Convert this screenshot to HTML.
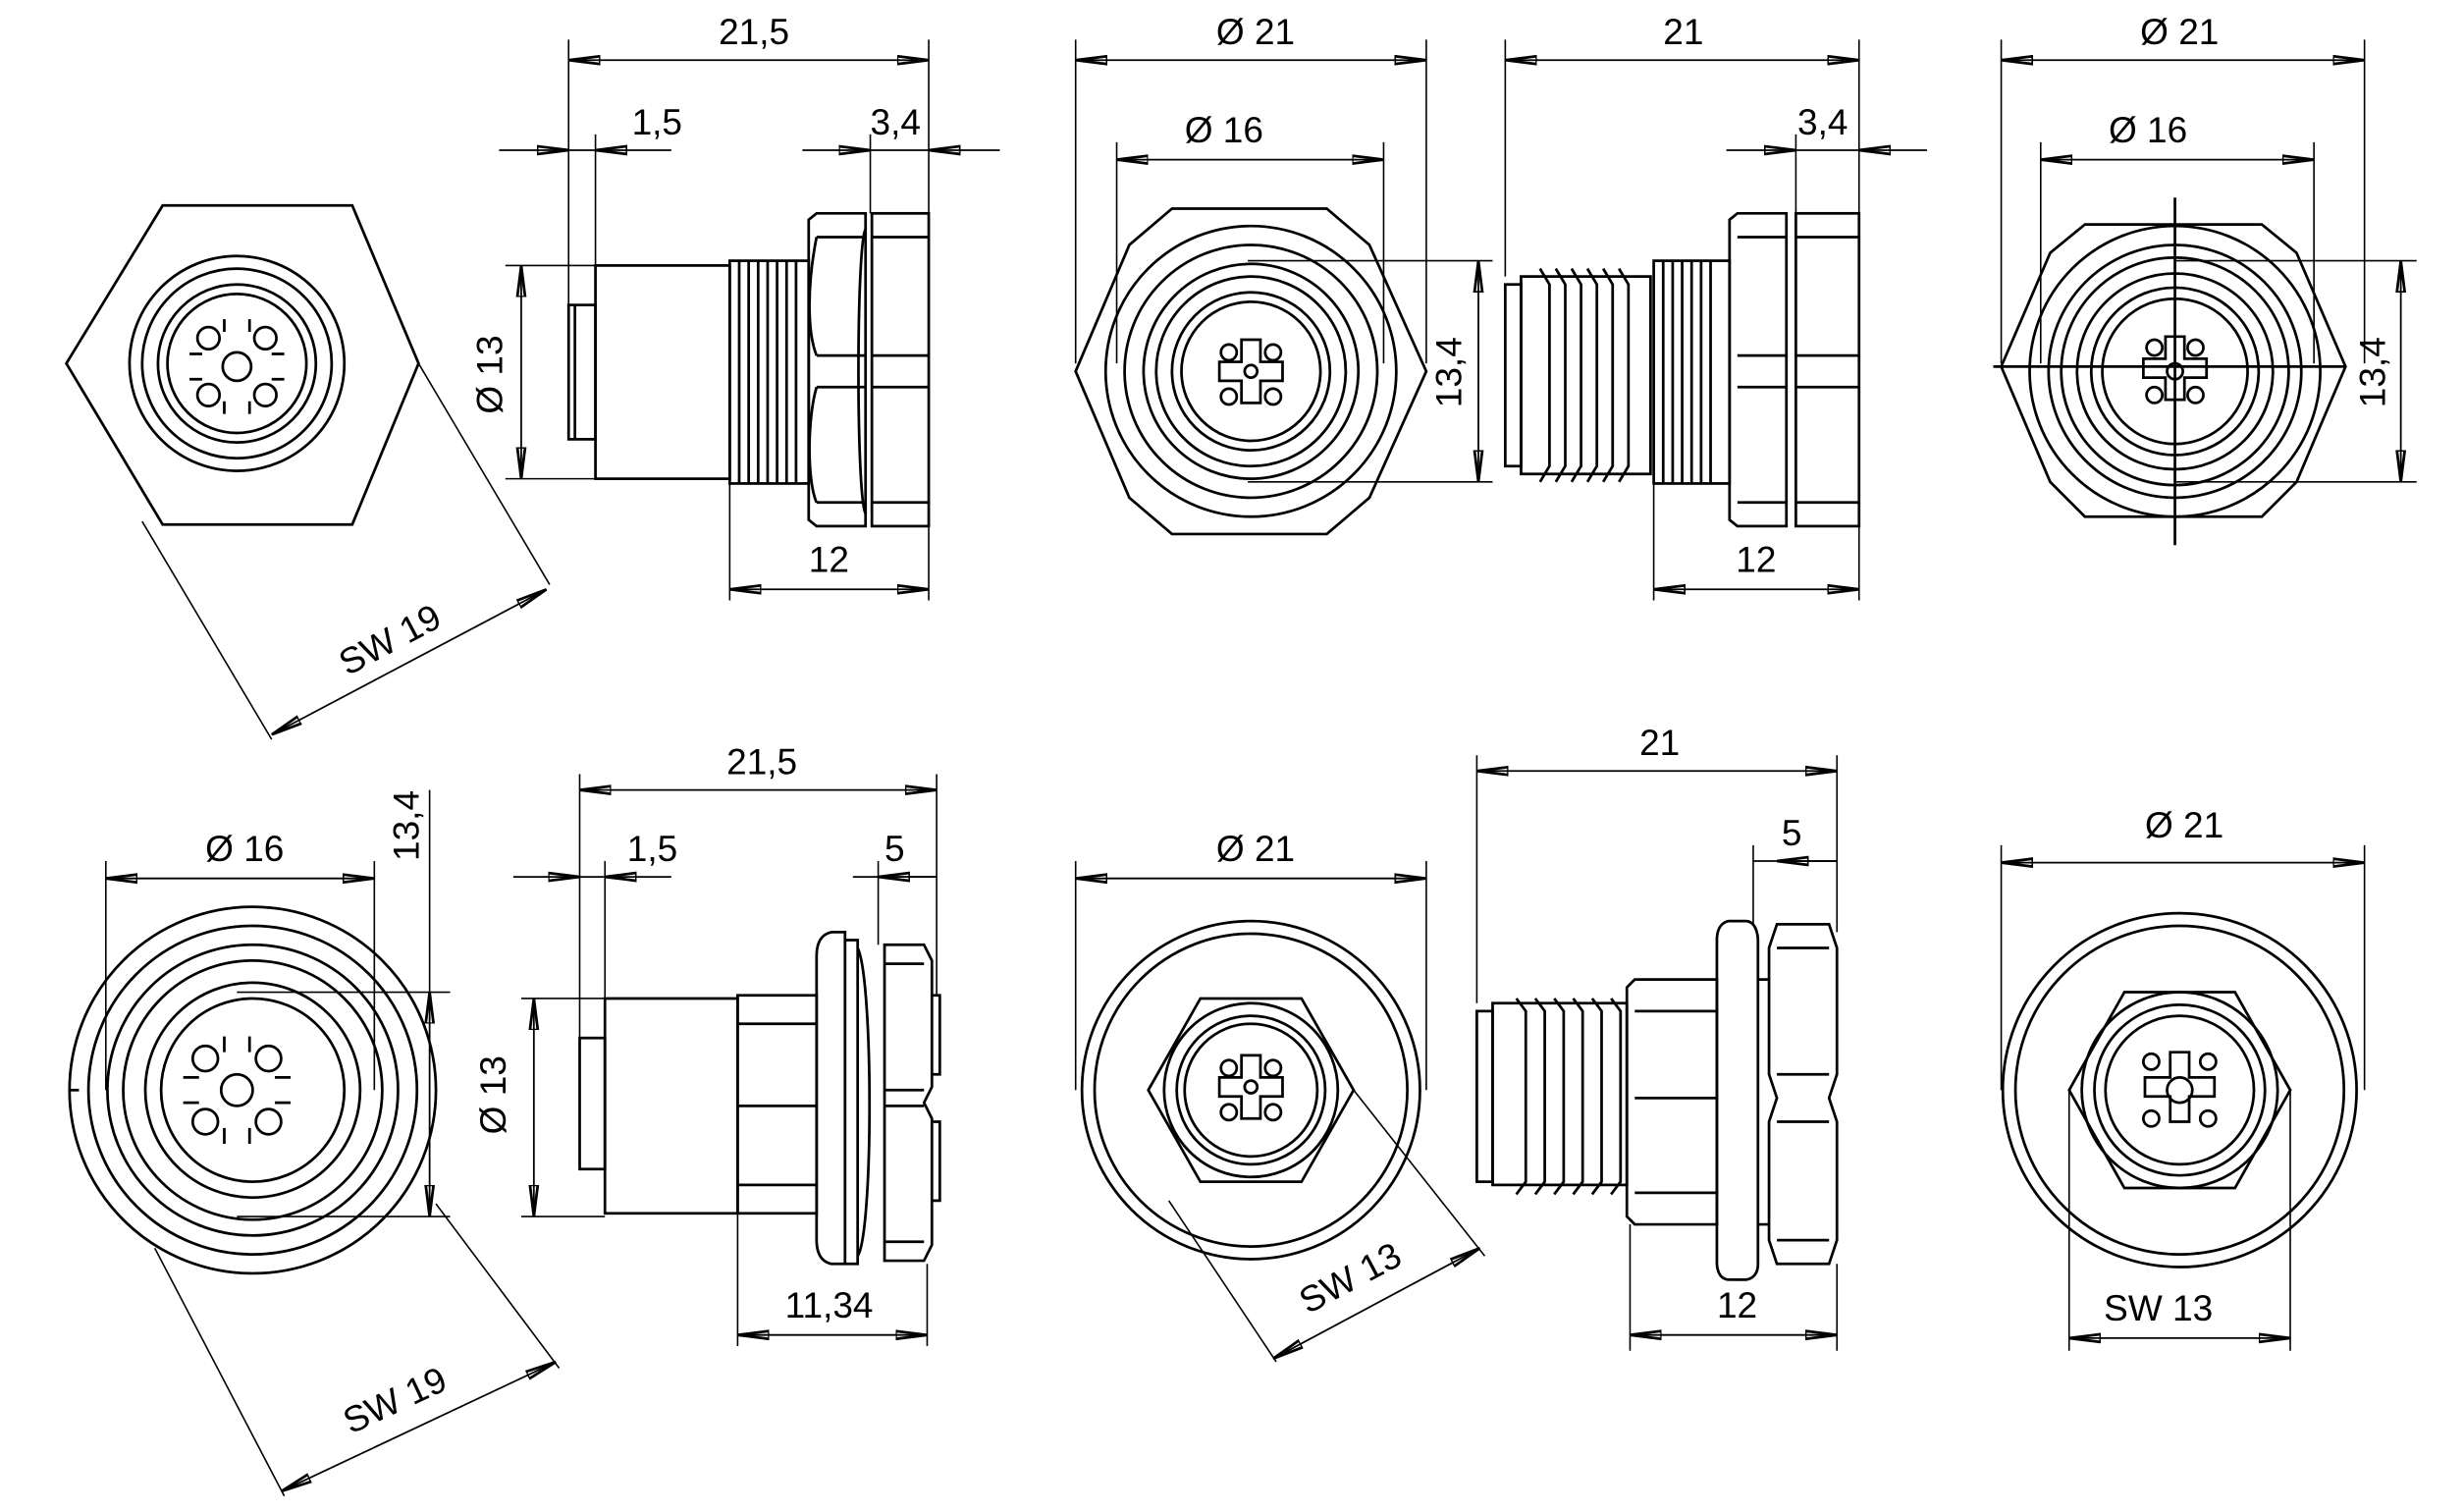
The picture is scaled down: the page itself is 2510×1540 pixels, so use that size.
<!DOCTYPE html>
<html><head><meta charset="utf-8"><style>html,body{margin:0;padding:0;background:#fff}svg{display:block}</style></head><body>
<svg width="2510" height="1540" viewBox="0 0 1560 957" xmlns="http://www.w3.org/2000/svg">
<defs>
<marker id="a" viewBox="0 0 20 8" refX="20" refY="4" markerWidth="20" markerHeight="8" markerUnits="userSpaceOnUse" orient="auto-start-reverse"><path d="M0,1.5 L20,4 L0,6.5z" fill="#000"/></marker>
<g id="pins4">
<path d="M-6,-22 h12 v14 h14 v12 h-14 v14 h-12 v-14 h-14 v-12 h14z" fill="none" stroke="#000" stroke-width="1.6"/>
<circle cx="-14" cy="-14" r="5"/><circle cx="14" cy="-14" r="5"/><circle cx="-14" cy="14" r="5"/><circle cx="14" cy="14" r="5"/>
<circle cx="0" cy="-2" r="4"/>
</g>
</defs>
<style>
line,path,circle,rect,polygon,polyline{stroke:#000;stroke-width:1.7;fill:none}
.d{stroke-width:1.1}
.e{stroke-width:1}
text{font-family:"Liberation Sans",sans-serif;font-size:23px;fill:#000;font-weight:normal}
</style>

<!-- ================= TOP ROW ================= -->
<!-- 1 hex front -->
<polygon points="42,230 103,130 223,130 265,230 223,332 103,332"/>
<circle cx="150" cy="230" r="68"/><circle cx="150" cy="230" r="60"/><circle cx="150" cy="230" r="50"/><circle cx="150" cy="230" r="44"/>
<g transform="translate(150,232)" stroke-width="1.6">
<circle r="9"/><circle cx="-18" cy="-18" r="7"/><circle cx="18" cy="-18" r="7"/><circle cx="-18" cy="18" r="7"/><circle cx="18" cy="18" r="7"/>
<path d="M-30,-8 h8 M22,-8 h8 M-30,8 h8 M22,8 h8 M-8,-30 v8 M8,-30 v8 M-8,22 v8 M8,22 v8"/>
</g>
<line class="e" x1="90" y1="330" x2="172" y2="468"/><line class="e" x1="265" y1="230" x2="348" y2="370"/>
<line class="d" x1="172" y1="465" x2="346" y2="373" marker-start="url(#a)" marker-end="url(#a)"/>
<text transform="translate(220,428) rotate(-28)">SW 19</text>

<!-- 2 side view -->
<line class="e" x1="360" y1="25" x2="360" y2="193"/><line class="e" x1="588" y1="25" x2="588" y2="135"/>
<line class="d" x1="360" y1="38" x2="588" y2="38" marker-start="url(#a)" marker-end="url(#a)"/>
<text x="455" y="28">21,5</text>
<line class="e" x1="377" y1="85" x2="377" y2="168"/>
<line class="d" x1="316" y1="95" x2="360" y2="95" marker-end="url(#a)"/><line class="d" x1="425" y1="95" x2="377" y2="95" marker-end="url(#a)"/>
<line class="d" x1="360" y1="95" x2="377" y2="95"/><text x="400" y="85">1,5</text>
<line class="e" x1="551" y1="85" x2="551" y2="135"/>
<line class="d" x1="508" y1="95" x2="551" y2="95" marker-end="url(#a)"/><line class="d" x1="633" y1="95" x2="588" y2="95" marker-end="url(#a)"/>
<line class="d" x1="551" y1="95" x2="588" y2="95"/><text x="551" y="85">3,4</text>
<line class="e" x1="320" y1="168" x2="377" y2="168"/><line class="e" x1="320" y1="303" x2="377" y2="303"/>
<line class="d" x1="330" y1="168" x2="330" y2="303" marker-start="url(#a)" marker-end="url(#a)"/>
<text transform="translate(318,262) rotate(-90)">Ø 13</text>
<rect x="360" y="193" width="17" height="85"/><line x1="364" y1="193" x2="364" y2="278"/>
<rect x="377" y="168" width="85" height="135"/>
<rect x="462" y="165" width="50" height="141"/>
<g stroke-width="1.1"><path d="M468,165 v141 M474,165 v141 M480,165 v141 M486,165 v141 M492,165 v141 M498,165 v141 M504,165 v141"/></g>
<path d="M517,135 h31 v198 h-31 l-5,-4 v-190z"/><path d="M517,150 h31 M517,318 h31 M517,225 h31 M517,245 h31 M517,150 c-6,30 -6,60 0,75 M517,245 c-6,20 -6,60 0,73"/>
<rect x="552" y="135" width="36" height="198"/><path d="M552,150 h36 M552,318 h36 M552,225 h36 M552,245 h36 M548,145 c-6,10 -6,170 0,180"/>
<line class="e" x1="462" y1="306" x2="462" y2="380"/><line class="e" x1="588" y1="333" x2="588" y2="380"/>
<line class="d" x1="462" y1="373" x2="588" y2="373" marker-start="url(#a)" marker-end="url(#a)"/>
<text x="512" y="362">12</text>

<!-- 3 front view -->
<line class="e" x1="681" y1="25" x2="681" y2="230"/><line class="e" x1="903" y1="25" x2="903" y2="230"/>
<line class="d" x1="681" y1="38" x2="903" y2="38" marker-start="url(#a)" marker-end="url(#a)"/>
<text x="770" y="28">Ø 21</text>
<line class="e" x1="707" y1="90" x2="707" y2="230"/><line class="e" x1="876" y1="90" x2="876" y2="230"/>
<line class="d" x1="707" y1="101" x2="876" y2="101" marker-start="url(#a)" marker-end="url(#a)"/>
<text x="750" y="90">Ø 16</text>
<polygon points="681,235 715,155 742,132 840,132 867,155 903,235 867,315 840,338 742,338 715,315"/>
<circle cx="792" cy="235" r="92"/><circle cx="792" cy="235" r="80"/><circle cx="792" cy="235" r="68"/><circle cx="792" cy="235" r="60"/><circle cx="792" cy="235" r="50"/><circle cx="792" cy="235" r="44"/>
<g transform="translate(792,237)" stroke-width="1.6"><use href="#pins4"/></g>
<line class="e" x1="790" y1="165" x2="945" y2="165"/><line class="e" x1="790" y1="305" x2="945" y2="305"/>
<line class="d" x1="936" y1="165" x2="936" y2="305" marker-start="url(#a)" marker-end="url(#a)"/>
<text transform="translate(925,258) rotate(-90)">13,4</text>

<!-- 4 side view -->
<line class="e" x1="953" y1="25" x2="953" y2="175"/><line class="e" x1="1177" y1="25" x2="1177" y2="135"/>
<line class="d" x1="953" y1="38" x2="1177" y2="38" marker-start="url(#a)" marker-end="url(#a)"/>
<text x="1053" y="28">21</text>
<line class="e" x1="1137" y1="85" x2="1137" y2="135"/>
<line class="d" x1="1093" y1="95" x2="1137" y2="95" marker-end="url(#a)"/><line class="d" x1="1220" y1="95" x2="1177" y2="95" marker-end="url(#a)"/>
<line class="d" x1="1137" y1="95" x2="1177" y2="95"/><text x="1138" y="85">3,4</text>
<rect x="953" y="180" width="10" height="115"/>
<path d="M963,175 h82 v125 h-82z"/>
<g stroke-width="1.3"><path d="M975,170 l6,10 v115 l-6,10 M985,170 l6,10 v115 l-6,10 M995,170 l6,10 v115 l-6,10 M1005,170 l6,10 v115 l-6,10 M1015,170 l6,10 v115 l-6,10 M1025,170 l6,10 v115 l-6,10"/></g>
<rect x="1047" y="165" width="48" height="141"/>
<g stroke-width="1.1"><path d="M1053,165 v141 M1059,165 v141 M1065,165 v141 M1071,165 v141 M1077,165 v141 M1083,165 v141"/></g>
<path d="M1100,135 h31 v198 h-31 l-5,-4 v-190z"/><path d="M1100,150 h31 M1100,318 h31 M1100,225 h31 M1100,245 h31"/>
<rect x="1137" y="135" width="40" height="198"/><path d="M1137,150 h40 M1137,318 h40 M1137,225 h40 M1137,245 h40"/>
<line class="e" x1="1047" y1="306" x2="1047" y2="380"/><line class="e" x1="1177" y1="333" x2="1177" y2="380"/>
<line class="d" x1="1047" y1="373" x2="1177" y2="373" marker-start="url(#a)" marker-end="url(#a)"/>
<text x="1099" y="362">12</text>

<!-- 5 front view -->
<line class="e" x1="1267" y1="25" x2="1267" y2="230"/><line class="e" x1="1497" y1="25" x2="1497" y2="230"/>
<line class="d" x1="1267" y1="38" x2="1497" y2="38" marker-start="url(#a)" marker-end="url(#a)"/>
<text x="1355" y="28">Ø 21</text>
<line class="e" x1="1292" y1="90" x2="1292" y2="230"/><line class="e" x1="1465" y1="90" x2="1465" y2="230"/>
<line class="d" x1="1292" y1="101" x2="1465" y2="101" marker-start="url(#a)" marker-end="url(#a)"/>
<text x="1335" y="90">Ø 16</text>
<polygon points="1267,232 1298,160 1320,142 1432,142 1454,160 1485,232 1454,305 1432,327 1320,327 1298,305"/>
<circle cx="1377" cy="235" r="92"/><circle cx="1377" cy="235" r="80"/><circle cx="1377" cy="235" r="72"/><circle cx="1377" cy="235" r="62"/><circle cx="1377" cy="235" r="53"/><circle cx="1377" cy="235" r="46"/>
<line x1="1262" y1="232" x2="1485" y2="232"/><line x1="1377" y1="125" x2="1377" y2="345"/>
<g transform="translate(1377,235)" stroke-width="1.6"><path d="M-6,-22 h12 v14 h14 v12 h-14 v14 h-12 v-14 h-14 v-12 h14z"/><circle r="5"/><circle cx="-13" cy="-15" r="5"/><circle cx="13" cy="-15" r="5"/><circle cx="-13" cy="15" r="5"/><circle cx="13" cy="15" r="5"/></g>
<line class="e" x1="1377" y1="165" x2="1530" y2="165"/><line class="e" x1="1377" y1="305" x2="1530" y2="305"/>
<line class="d" x1="1520" y1="165" x2="1520" y2="305" marker-start="url(#a)" marker-end="url(#a)"/>
<text transform="translate(1510,258) rotate(-90)">13,4</text>

<!-- ================= BOTTOM ROW ================= -->
<!-- 6 front -->
<line class="e" x1="67" y1="545" x2="67" y2="690"/><line class="e" x1="237" y1="545" x2="237" y2="690"/>
<line class="d" x1="67" y1="556" x2="237" y2="556" marker-start="url(#a)" marker-end="url(#a)"/>
<text x="130" y="545">Ø 16</text>
<circle cx="160" cy="690" r="116"/><circle cx="160" cy="690" r="104"/><circle cx="160" cy="690" r="92"/><circle cx="160" cy="690" r="82"/><circle cx="160" cy="690" r="68"/><circle cx="160" cy="690" r="58"/>
<line x1="44" y1="690" x2="50" y2="690"/>
<g transform="translate(150,690)" stroke-width="1.6">
<circle r="10"/><circle cx="-20" cy="-20" r="8"/><circle cx="20" cy="-20" r="8"/><circle cx="-20" cy="20" r="8"/><circle cx="20" cy="20" r="8"/>
<path d="M-34,-8 h10 M24,-8 h10 M-34,8 h10 M24,8 h10 M-8,-34 v10 M8,-34 v10 M-8,24 v10 M8,24 v10"/>
</g>
<line class="e" x1="150" y1="628" x2="285" y2="628"/><line class="e" x1="150" y1="770" x2="285" y2="770"/>
<line class="d" x1="272" y1="628" x2="272" y2="770" marker-start="url(#a)" marker-end="url(#a)"/>
<line class="e" x1="272" y1="500" x2="272" y2="628"/>
<text transform="translate(265,545) rotate(-90)">13,4</text>
<line class="e" x1="98" y1="790" x2="180" y2="947"/><line class="e" x1="276" y1="762" x2="354" y2="866"/>
<line class="d" x1="178" y1="944" x2="352" y2="862" marker-start="url(#a)" marker-end="url(#a)"/>
<text transform="translate(222,908) rotate(-25)">SW 19</text>

<!-- 7 side -->
<line class="e" x1="367" y1="490" x2="367" y2="657"/><line class="e" x1="593" y1="490" x2="593" y2="630"/>
<line class="d" x1="367" y1="500" x2="593" y2="500" marker-start="url(#a)" marker-end="url(#a)"/>
<text x="460" y="490">21,5</text>
<line class="e" x1="383" y1="545" x2="383" y2="632"/>
<line class="d" x1="325" y1="555" x2="367" y2="555" marker-end="url(#a)"/><line class="d" x1="425" y1="555" x2="383" y2="555" marker-end="url(#a)"/>
<line class="d" x1="367" y1="555" x2="383" y2="555"/><text x="397" y="545">1,5</text>
<line class="e" x1="556" y1="545" x2="556" y2="598"/>
<line class="d" x1="540" y1="555" x2="593" y2="555"/><line class="d" x1="593" y1="555" x2="556" y2="555" marker-end="url(#a)"/>
<text x="560" y="545">5</text>
<line class="e" x1="330" y1="632" x2="383" y2="632"/><line class="e" x1="330" y1="770" x2="383" y2="770"/>
<line class="d" x1="338" y1="632" x2="338" y2="770" marker-start="url(#a)" marker-end="url(#a)"/>
<text transform="translate(320,718) rotate(-90)">Ø 13</text>
<rect x="367" y="657" width="16" height="83"/>
<rect x="383" y="632" width="84" height="136"/>
<rect x="467" y="630" width="50" height="138"/><path d="M467,648 h50 M467,750 h50 M467,700 h50"/>
<path d="M517,605 c0,-15 10,-15 10,-15 h8 v210 h-8 c0,0 -10,0 -10,-15z"/>
<path d="M535,595 h8 v205 h-8 M543,600 c10,20 10,180 0,195"/>
<path d="M560,598 h25 l5,10 v80 l-5,10 l5,10 v80 l-5,10 h-25 z M560,610 h25 M560,690 h25 M560,700 h25 M560,786 h25 M590,630 h5 v50 h-5 M590,710 h5 v50 h-5"/>
<line class="e" x1="467" y1="768" x2="467" y2="852"/><line class="e" x1="587" y1="800" x2="587" y2="852"/>
<line class="d" x1="467" y1="845" x2="587" y2="845" marker-start="url(#a)" marker-end="url(#a)"/>
<text x="497" y="834">11,34</text>

<!-- 8 front -->
<line class="e" x1="681" y1="545" x2="681" y2="690"/><line class="e" x1="903" y1="545" x2="903" y2="690"/>
<line class="d" x1="681" y1="556" x2="903" y2="556" marker-start="url(#a)" marker-end="url(#a)"/>
<text x="770" y="545">Ø 21</text>
<circle cx="792" cy="690" r="107"/><circle cx="792" cy="690" r="99"/>
<polygon points="727,690 760,632 824,632 857,690 824,748 760,748"/>
<circle cx="792" cy="690" r="55"/><circle cx="792" cy="690" r="47"/><circle cx="792" cy="690" r="42"/>
<g transform="translate(792,690)" stroke-width="1.6"><use href="#pins4"/></g>
<line class="e" x1="740" y1="760" x2="808" y2="862"/><line class="e" x1="857" y1="690" x2="940" y2="795"/>
<line class="d" x1="806" y1="860" x2="937" y2="790" marker-start="url(#a)" marker-end="url(#a)"/>
<text transform="translate(828,832) rotate(-28)">SW 13</text>

<!-- 9 side -->
<line class="e" x1="935" y1="478" x2="935" y2="635"/><line class="e" x1="1163" y1="478" x2="1163" y2="590"/>
<line class="d" x1="935" y1="488" x2="1163" y2="488" marker-start="url(#a)" marker-end="url(#a)"/>
<text x="1038" y="478">21</text>
<line class="e" x1="1110" y1="535" x2="1110" y2="585"/>
<line class="d" x1="1110" y1="545" x2="1163" y2="545"/><line class="d" x1="1163" y1="545" x2="1125" y2="545" marker-end="url(#a)"/>
<text x="1128" y="535">5</text>
<rect x="935" y="640" width="10" height="108"/>
<path d="M945,635 h85 v115 h-85z"/>
<g stroke-width="1.3"><path d="M960,632 l6,8 v108 l-6,8 M972,632 l6,8 v108 l-6,8 M984,632 l6,8 v108 l-6,8 M996,632 l6,8 v108 l-6,8 M1008,632 l6,8 v108 l-6,8 M1020,632 l6,8 v108 l-6,8"/></g>
<path d="M1035,620 h52 v155 h-52 l-5,-5 v-145z M1035,640 h52 M1035,695 h52 M1035,755 h52"/>
<path d="M1087,595 c0,-12 8,-12 8,-12 h10 c8,0 8,12 8,12 v205 c0,10 -8,10 -8,10 h-10 c-8,0 -8,-10 -8,-10z"/>
<path d="M1125,585 h33 l5,15 v80 l-5,15 l5,15 v75 l-5,15 h-33 l-5,-15 v-75 l5,-15 l-5,-15 v-80z M1125,600 h33 M1125,680 h33 M1125,710 h33 M1125,785 h33 M1113,620 h7 M1113,775 h7"/>
<line class="e" x1="1032" y1="775" x2="1032" y2="855"/><line class="e" x1="1163" y1="800" x2="1163" y2="855"/>
<line class="d" x1="1032" y1="845" x2="1163" y2="845" marker-start="url(#a)" marker-end="url(#a)"/>
<text x="1087" y="834">12</text>

<!-- 10 front -->
<line class="e" x1="1267" y1="535" x2="1267" y2="690"/><line class="e" x1="1497" y1="535" x2="1497" y2="690"/>
<line class="d" x1="1267" y1="546" x2="1497" y2="546" marker-start="url(#a)" marker-end="url(#a)"/>
<text x="1358" y="530">Ø 21</text>
<circle cx="1380" cy="690" r="112"/><circle cx="1380" cy="690" r="104"/>
<polygon points="1310,690 1345,628 1415,628 1450,690 1415,752 1345,752"/>
<circle cx="1380" cy="690" r="62"/><circle cx="1380" cy="690" r="54"/><circle cx="1380" cy="690" r="47"/>
<g transform="translate(1380,690)" stroke-width="1.6"><path d="M-6,-24 h12 v16 h16 v12 h-16 v16 h-12 v-16 h-16 v-12 h16z"/><circle r="8"/><circle cx="-18" cy="-18" r="5"/><circle cx="18" cy="-18" r="5"/><circle cx="-18" cy="18" r="5"/><circle cx="18" cy="18" r="5"/></g>
<line class="e" x1="1310" y1="690" x2="1310" y2="855"/><line class="e" x1="1450" y1="690" x2="1450" y2="855"/>
<line class="d" x1="1310" y1="847" x2="1450" y2="847" marker-start="url(#a)" marker-end="url(#a)"/>
<text x="1332" y="836">SW 13</text>
</svg>
</body></html>
